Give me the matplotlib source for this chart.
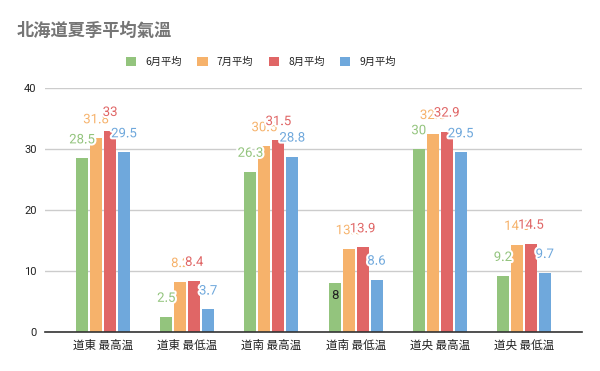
import numpy as np
import matplotlib.pyplot as plt
import matplotlib.patheffects as pe

plt.rcParams['font.family'] = ['Noto Sans CJK JP', 'DejaVu Sans']

categories = ['道東 最高温', '道東 最低温', '道南 最高温', '道南 最低温', '道央 最高温', '道央 最低温']
series_names = ['6月平均', '7月平均', '8月平均', '9月平均']
june = [28.5, 2.5, 26.3, 8, 30, 9.2]
july = [31.8, 8.2, 30.5, 13.6, 32.5, 14.3]
august = [33, 8.4, 31.5, 13.9, 32.9, 14.5]
september = [29.5, 3.7, 28.8, 8.6, 29.5, 9.7]
colors = ['#93c47d', '#f6b26b', '#e06666', '#6fa8dc']

series = [june, july, august, september]
x = np.arange(len(categories))
step = 0.166
width = 0.1425

fig = plt.figure(figsize=(6, 3.71), dpi=100)
ax = fig.add_axes([0.075, 0.105, 0.895, 0.657])

bars = []
for i, (vals, name, c) in enumerate(zip(series, series_names, colors)):
    b = ax.bar(x + (i - 1.5) * step, vals, width, color=c, label=name, zorder=2)
    bars.append(b)

halo = [pe.withStroke(linewidth=3, foreground='white')]
for b, vals, c in zip(bars, series, colors):
    for rect, v in zip(b, vals):
        cx = rect.get_x() + rect.get_width() / 2
        txt = f'{v:g}'
        if v == 8:
            # this one sits inside the bar in black
            ax.annotate(txt, (cx, v), xytext=(0, -6), textcoords='offset pixels',
                        ha='center', va='top', fontsize=9.5, color='#222222',
                        family='Roboto', zorder=4)
        else:
            ax.annotate(txt, (cx, v), xytext=(0, 15), textcoords='offset pixels',
                        ha='center', va='baseline', fontsize=9.5, color=c,
                        family='Roboto', path_effects=halo, zorder=4)

ax.set_ylim(0, 40)
ax.set_xlim(-0.69, 5.69)
ax.set_yticks([0, 10, 20, 30, 40])
ax.set_yticklabels(['0', '10', '20', '30', '40'], fontsize=8, color='#222222', family='Roboto')
ax.set_xticks(x)
ax.set_xticklabels(categories, fontsize=8.3, color='#222222')
ax.tick_params(length=0)
ax.tick_params(axis='y', pad=6)
ax.tick_params(axis='x', pad=5)
ax.grid(axis='y', color='#cccccc', linewidth=1, zorder=0)
for s in ['top', 'right', 'left']:
    ax.spines[s].set_visible(False)
ax.spines['bottom'].set_color('#333333')
ax.spines['bottom'].set_linewidth(1.2)
ax.spines['bottom'].set_zorder(3)

fig.text(17 / 600, 1 - 31 / 371, '北海道夏季平均氣溫', fontsize=12.4, fontweight='bold',
         color='#757575', va='center', ha='left')

fig.legend(loc='center', bbox_to_anchor=(261 / 600, 1 - 62 / 371), ncol=4, frameon=False,
           fontsize=7.4, handlelength=1.0, handleheight=1.0, handletextpad=0.9,
           columnspacing=1.5, labelcolor='#222222')

plt.savefig('out.png', dpi=100)
